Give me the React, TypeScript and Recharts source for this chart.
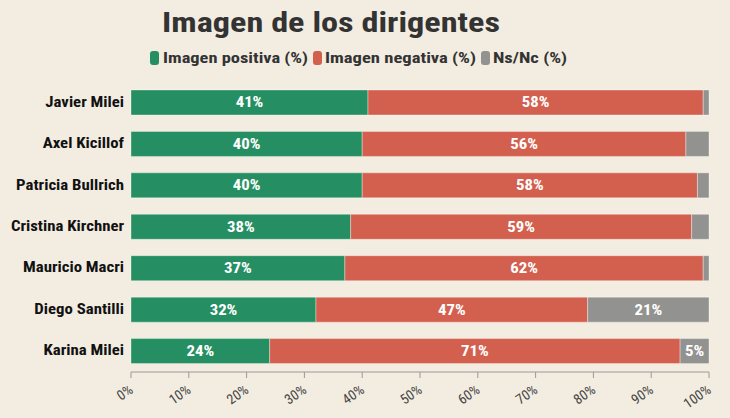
import { BarChart, Bar, XAxis, YAxis, LabelList } from 'recharts';

const dirigentes = [
  'Javier Milei',
  'Axel Kicillof',
  'Patricia Bullrich',
  'Cristina Kirchner',
  'Mauricio Macri',
  'Diego Santilli',
  'Karina Milei',
];
const positiva = [41, 40, 40, 38, 37, 32, 24];
const negativa = [58, 56, 58, 59, 62, 47, 71];
const nsnc = [1, 4, 2, 3, 1, 21, 5];
const xTicks = [0, 10, 20, 30, 40, 50, 60, 70, 80, 90, 100];

const series = [
  { key: 'positiva', name: 'Imagen positiva (%)', color: '#258f63' },
  { key: 'negativa', name: 'Imagen negativa (%)', color: '#d3604e' },
  { key: 'nsnc', name: 'Ns/Nc (%)', color: '#929290' },
];

const data = dirigentes.map((name, i) => ({
  name,
  positiva: positiva[i],
  negativa: negativa[i],
  nsnc: nsnc[i],
}));

const FONT = '"Roboto Condensed", "Open Sans", sans-serif';
const BG = '#f3ede1';

// legend layout: [marker x, text x, text width]
const legendPos = [
  [150, 163, 145],
  [313, 325, 151],
  [481, 493, 74],
];

const renderLabel = (props: any) => {
  const { x, y, width, height, value } = props;
  if (value < 5) return null;
  const cx = x + width / 2;
  const cy = y + height / 2;
  return (
    <g transform={`translate(${cx},${cy}) scale(1.12,1)`}>
      <text
        x={0}
        y={1}
        fill="#fff"
        fontSize={15}
        fontWeight={700}
        fontFamily={FONT}
        textAnchor="middle"
        dominantBaseline="middle"
      >
        {value}%
      </text>
    </g>
  );
};

const XTick = (props: any) => {
  const { x, y, payload } = props;
  return (
    <text
      x={x + 3}
      y={y + 12}
      transform={`rotate(-35 ${x + 3} ${y + 12})`}
      textAnchor="end"
      fontSize={14}
      fontFamily={FONT}
      fill="#444"
    >
      {payload.value}%
    </text>
  );
};

const YTick = (props: any) => {
  const { x, y, payload } = props;
  return (
    <g transform={`translate(${x},${y}) scale(1.12,1)`}>
      <text
        x={0}
        y={0}
        textAnchor="end"
        dominantBaseline="middle"
        fontSize={15}
        fontWeight={700}
        fontFamily={FONT}
        fill="#111"
      >
        {payload.value}
      </text>
    </g>
  );
};

export default function App() {
  return (
    <div
      style={{
        position: 'fixed',
        left: 0,
        top: 0,
        width: 730,
        height: 418,
        background: BG,
        fontFamily: FONT,
      }}
    >
      <svg
        width={730}
        height={80}
        style={{ position: 'absolute', left: 0, top: 0 }}
        fontFamily={FONT}
      >
        <text
          x={162}
          y={32}
          fontSize={28}
          fontWeight={700}
          fill="#333"
          textLength={338}
          lengthAdjust="spacingAndGlyphs"
        >
          Imagen de los dirigentes
        </text>
        {series.map((s, i) => (
          <g key={s.key}>
            <rect x={legendPos[i][0]} y={51} width={9} height={14} rx={3} fill={s.color} />
            <text
              x={legendPos[i][1]}
              y={63}
              fontSize={15}
              fontWeight={700}
              fill="#333"
              textLength={legendPos[i][2]}
              lengthAdjust="spacingAndGlyphs"
            >
              {s.name}
            </text>
          </g>
        ))}
      </svg>
      <BarChart
        width={730}
        height={418}
        data={data}
        layout="vertical"
        margin={{ top: 82, right: 21, left: 0, bottom: 16 }}
      >
        <XAxis
          type="number"
          domain={[0, 100]}
          ticks={xTicks}
          tick={<XTick />}
          axisLine={{ stroke: '#999' }}
          tickLine={{ stroke: '#999' }}
          tickSize={6}
          height={30}
          interval={0}
        />
        <YAxis
          type="category"
          dataKey="name"
          width={131}
          axisLine={false}
          tickLine={false}
          tickMargin={1}
          tick={<YTick />}
        />
        {series.map(s => (
          <Bar
            key={s.key}
            dataKey={s.key}
            name={s.name}
            stackId="a"
            barSize={25}
            fill={s.color}
            stroke="rgba(255,255,255,0.35)"
            strokeWidth={1}
            isAnimationActive={false}
          >
            <LabelList dataKey={s.key} content={renderLabel} />
          </Bar>
        ))}
      </BarChart>
    </div>
  );
}
